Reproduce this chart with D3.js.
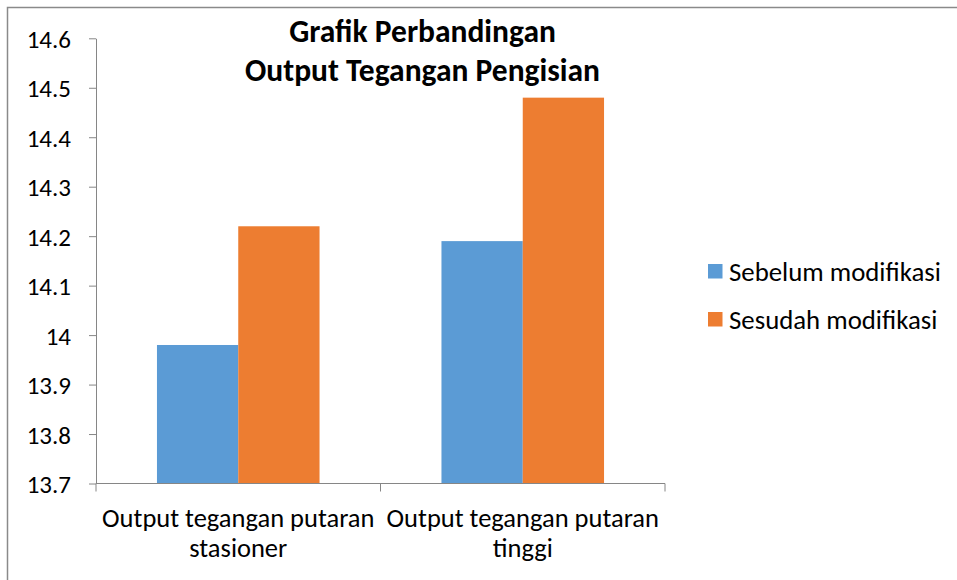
<!DOCTYPE html>
<html>
<head>
<meta charset="utf-8">
<script src="https://cdn.jsdelivr.net/npm/d3@7"></script>
<style>
    html, body { margin: 0; padding: 0; background: #fff; overflow: hidden; }
    svg text { font-family: Carlito, Calibri, Lato, sans-serif; fill: #000; }
</style>
</head>
<body>
<svg id="chart" width="957" height="580"></svg>
<script>
(function() {
    'use strict';

    var categories = ['Output tegangan putaran stasioner', 'Output tegangan putaran tinggi'];
    var series = ['Sebelum modifikasi', 'Sesudah modifikasi'];
    var sebelum = [13.98, 14.19];
    var sesudah = [14.22, 14.48];
    var yTicks = [13.7, 13.8, 13.9, 14, 14.1, 14.2, 14.3, 14.4, 14.5, 14.6];
    var titleLines = ['Grafik Perbandingan', 'Output Tegangan Pengisian'];

    var colors = { 'Sebelum modifikasi': '#5B9BD5', 'Sesudah modifikasi': '#ED7D31' };
    var axisColor = '#868686';
    var plot = { left: 96, right: 665, top: 38.3, bottom: 483.5 };

    var rows = categories.map(function(c, i) {
        return { name: c, values: [
            { key: series[0], value: sebelum[i] },
            { key: series[1], value: sesudah[i] }
        ] };
    });

    var svg = d3.select('#chart');

    // frame of the chart object
    svg.append('rect')
        .attr('x', 7.5).attr('y', 7.5)
        .attr('width', 980).attr('height', 600)
        .style('fill', 'none')
        .style('stroke', '#8a8a8a')
        .style('stroke-width', 1.5);

    var y = d3.scaleLinear()
        .domain([d3.min(yTicks), d3.max(yTicks)])
        .range([plot.bottom, plot.top]);

    var x0 = d3.scaleBand()
        .domain(categories)
        .range([plot.left, plot.right])
        .padding(0);

    var x1 = d3.scaleBand()
        .domain(series)
        .range([0, x0.bandwidth()])
        .paddingInner(0)
        .paddingOuter(0.75);

    // bars
    var groups = svg.append('g').selectAll('g')
        .data(rows)
        .enter().append('g')
        .attr('transform', function(d) { return 'translate(' + x0(d.name) + ',0)'; });

    groups.selectAll('rect')
        .data(function(d) { return d.values; })
        .enter().append('rect')
        .attr('x', function(d) { return x1(d.key); })
        .attr('width', x1.bandwidth())
        .attr('y', function(d) { return y(d.value); })
        .attr('height', function(d) { return y(yTicks[0]) - y(d.value); })
        .style('fill', function(d) { return colors[d.key]; });

    // y axis
    var yAxis = svg.append('g')
        .attr('transform', 'translate(' + plot.left + ',0)')
        .call(d3.axisLeft(y)
            .tickValues(yTicks)
            .tickFormat(function(d) { return String(d); })
            .tickSize(7)
            .tickSizeOuter(0)
            .tickPadding(18));

    yAxis.selectAll('path, line').style('stroke', axisColor);
    yAxis.selectAll('text')
        .style('font-size', '25px')
        .attr('dy', '0.36em');

    // x axis: line + ticks at category boundaries
    var xAxis = svg.append('g')
        .attr('transform', 'translate(0,' + plot.bottom + ')');

    xAxis.append('line')
        .attr('x1', plot.left).attr('x2', plot.right)
        .style('stroke', axisColor);

    var bounds = categories.map(function(c) { return x0(c); }).concat([x0.range()[1]]);
    xAxis.selectAll('.bound')
        .data(bounds)
        .enter().append('line')
        .attr('class', 'bound')
        .attr('x1', function(d) { return d; })
        .attr('x2', function(d) { return d; })
        .attr('y1', 0).attr('y2', 8)
        .style('stroke', axisColor);

    // category labels, two lines each
    xAxis.selectAll('.cat')
        .data(categories)
        .enter().append('text')
        .attr('class', 'cat')
        .attr('text-anchor', 'middle')
        .style('font-size', '26.5px')
        .each(function(d) {
            var words = d.split(' ');
            var lines = [words.slice(0, 3).join(' '), words.slice(3).join(' ')];
            var cx = x0(d) + x0.bandwidth() / 2;
            d3.select(this).selectAll('tspan')
                .data(lines)
                .enter().append('tspan')
                .attr('x', cx)
                .attr('y', function(l, i) { return 43.5 + i * 30; })
                .text(function(l) { return l; });
        });

    // title
    svg.append('text')
        .attr('text-anchor', 'middle')
        .style('font-size', '31.5px')
        .style('font-weight', 'bold')
        .selectAll('tspan')
        .data(titleLines)
        .enter().append('tspan')
        .attr('x', 422.5)
        .attr('y', function(d, i) { return 41.7 + i * 39; })
        .text(function(d) { return d; });

    // legend
    var legend = svg.append('g')
        .attr('transform', 'translate(708,264)')
        .selectAll('g')
        .data(series)
        .enter().append('g')
        .attr('transform', function(d, i) { return 'translate(0,' + i * 48 + ')'; });

    legend.append('rect')
        .attr('width', 14.5).attr('height', 14.5)
        .style('fill', function(d) { return colors[d]; });

    legend.append('text')
        .attr('x', 21)
        .attr('y', 16.7)
        .style('font-size', '26.8px')
        .text(function(d) { return d; });
})();
</script>
</body>
</html>
